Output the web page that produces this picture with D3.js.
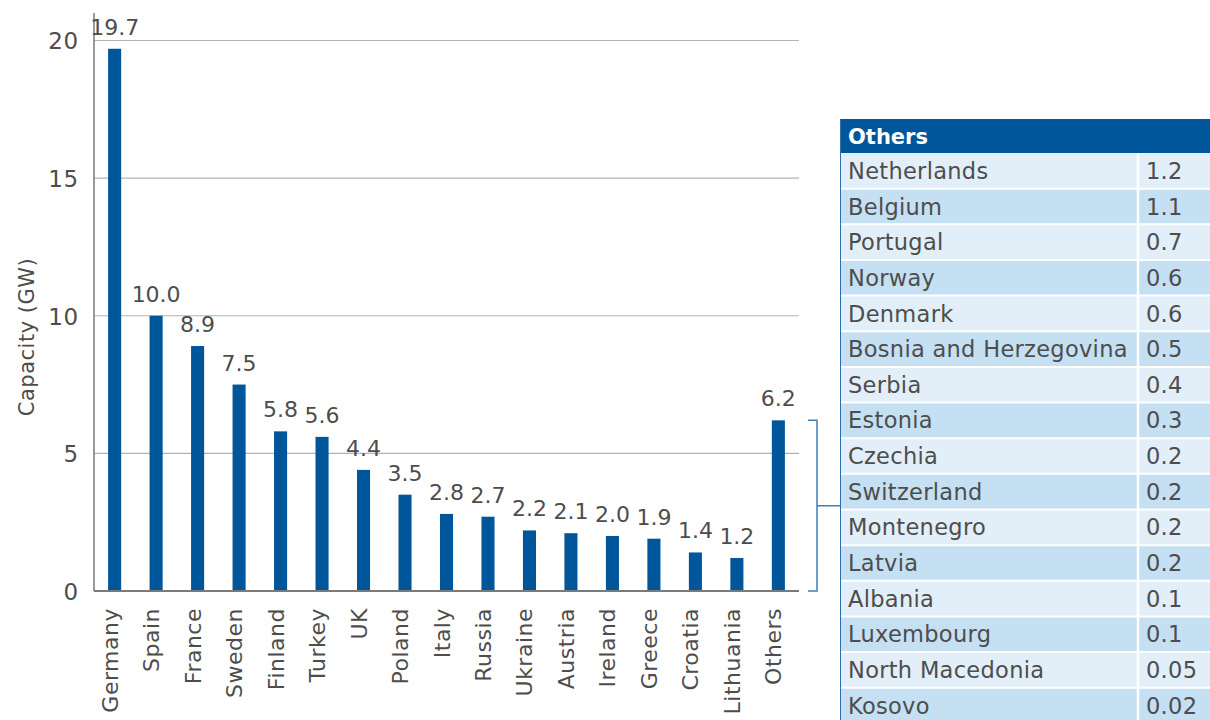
<!DOCTYPE html>
<html>
<head>
<meta charset="utf-8">
<script src="https://cdn.jsdelivr.net/npm/d3@7"></script>
<style>
  html, body { margin: 0; padding: 0; background: #fff; }
  svg { display: block; font-family: "DejaVu Sans", sans-serif; }
</style>
</head>
<body>
<svg id="chart" width="1210" height="720"></svg>
<script>
const categories = ["Germany","Spain","France","Sweden","Finland","Turkey","UK","Poland","Italy","Russia","Ukraine","Austria","Ireland","Greece","Croatia","Lithuania","Others"];
const capacity = [19.7,10.0,8.9,7.5,5.8,5.6,4.4,3.5,2.8,2.7,2.2,2.1,2.0,1.9,1.4,1.2,6.2];
const yTicks = [0,5,10,15,20];
const otherCountries = ["Netherlands","Belgium","Portugal","Norway","Denmark","Bosnia and Herzegovina","Serbia","Estonia","Czechia","Switzerland","Montenegro","Latvia","Albania","Luxembourg","North Macedonia","Kosovo"];
const otherLabels = ["1.2","1.1","0.7","0.6","0.6","0.5","0.4","0.3","0.2","0.2","0.2","0.2","0.1","0.1","0.05","0.02"];
const tableTitle = "Others";
const yTitle = "Capacity (GW)";

const svg = d3.select("#chart");
const blue = "#00569a";
const textCol = "#4d4d4d";
const FONT = "'DejaVu Sans', sans-serif";

const x = d3.scaleBand().domain(categories).range([94, 799]).paddingInner(0.685).paddingOuter(0.34);
const y = d3.scaleLinear().domain([0, 20]).range([591, 40.5]);

// gridlines
svg.append("g").selectAll("line").data(yTicks.filter(d => d > 0)).join("line")
  .attr("x1", 94).attr("x2", 799)
  .attr("y1", d => y(d)).attr("y2", d => y(d))
  .attr("stroke", "#b3b3b3").attr("stroke-width", 1.2);

// y axis
const yAxis = svg.append("g").attr("transform", "translate(94,0)")
  .call(d3.axisLeft(y).tickValues(yTicks).tickSize(0).tickPadding(15));
yAxis.select(".domain").remove();
yAxis.selectAll("text").attr("font-size", 23).attr("fill", textCol)
  .style("font-family", FONT).attr("letter-spacing", 0.8).attr("dy", "0.36em");
svg.append("line").attr("x1", 94).attr("x2", 94).attr("y1", 13).attr("y2", 591)
  .attr("stroke", "#7a7a7a").attr("stroke-width", 1.5);

// bars
svg.append("g").selectAll("rect").data(categories).join("rect")
  .attr("x", d => x(d)).attr("width", x.bandwidth())
  .attr("y", (d, i) => y(capacity[i])).attr("height", (d, i) => y(0) - y(capacity[i]))
  .attr("fill", blue);

// baseline
svg.append("line").attr("x1", 94).attr("x2", 799).attr("y1", 591).attr("y2", 591)
  .attr("stroke", "#7a7a7a").attr("stroke-width", 2);

// value labels
svg.append("g").selectAll("text").data(categories).join("text")
  .attr("x", d => x(d) + x.bandwidth() / 2)
  .attr("y", (d, i) => y(capacity[i]) - 14)
  .attr("text-anchor", "middle").attr("font-size", 22).attr("fill", textCol)
  .text((d, i) => capacity[i].toFixed(1));

// x labels
const xAxis = svg.append("g").attr("transform", "translate(0,591)")
  .call(d3.axisBottom(x).tickSize(0));
xAxis.select(".domain").remove();
xAxis.selectAll("text")
  .attr("font-size", 22).attr("fill", textCol).attr("letter-spacing", 0.5)
  .style("font-family", FONT)
  .attr("text-anchor", "end")
  .attr("transform", "rotate(-90)")
  .attr("x", -17).attr("y", 3).attr("dy", 0);

// y title
svg.append("text").attr("transform", "translate(34,337) rotate(-90)")
  .attr("text-anchor", "middle").attr("font-size", 21).attr("letter-spacing", 0.5).attr("fill", textCol)
  .text(yTitle);

// bracket
const othersVal = capacity[categories.indexOf("Others")];
const bTop = y(othersVal), bBot = y(0), bMid = (y(othersVal) + y(0)) / 2;
const bracketCol = "#3f7fb5";
svg.append("path")
  .attr("d", `M808,${bTop}H817V${bBot}H808M817,${bMid}H840`)
  .attr("fill", "none").attr("stroke", bracketCol).attr("stroke-width", 1.5);

// table
const tLeft = 840, tRight = 1210, colX = 1138, headTop = 119, headH = 34, rowH = 35.65;
const rowY = d3.scaleBand().domain(otherCountries)
  .range([headTop + headH, headTop + headH + rowH * otherCountries.length]);
const tbl = svg.append("g");
tbl.append("rect").attr("x", tLeft).attr("y", headTop).attr("width", tRight - tLeft).attr("height", headH).attr("fill", blue);
tbl.append("text").attr("x", tLeft + 8).attr("y", headTop + headH / 2).attr("dy", "0.36em")
  .attr("font-size", 21).attr("font-weight", "bold").attr("fill", "#fff").text(tableTitle);
const rows = tbl.selectAll("g.row").data(otherCountries).join("g").attr("class", "row");
rows.append("rect").attr("x", tLeft).attr("y", d => rowY(d)).attr("width", tRight - tLeft).attr("height", rowY.bandwidth())
  .attr("fill", (d, i) => i % 2 ? "#c5e0f2" : "#e2eff8");
// white separators
tbl.selectAll("line.sep").data(otherCountries.slice(1)).join("line").attr("class", "sep")
  .attr("x1", tLeft).attr("x2", tRight).attr("y1", d => rowY(d)).attr("y2", d => rowY(d))
  .attr("stroke", "#fff").attr("stroke-width", 2);
tbl.append("line").attr("x1", colX).attr("x2", colX).attr("y1", headTop + headH).attr("y2", 720)
  .attr("stroke", "#fff").attr("stroke-width", 2.5);
tbl.append("line").attr("x1", tLeft + 0.5).attr("x2", tLeft + 0.5).attr("y1", headTop).attr("y2", 720)
  .attr("stroke", "#2f6ea8").attr("stroke-width", 1);
rows.append("text").attr("x", tLeft + 8).attr("y", d => rowY(d) + rowY.bandwidth() / 2).attr("dy", "0.36em")
  .attr("font-size", 22.5).attr("letter-spacing", 0.3).attr("fill", textCol).text(d => d);
rows.append("text").attr("x", colX + 8).attr("y", d => rowY(d) + rowY.bandwidth() / 2).attr("dy", "0.36em")
  .attr("font-size", 22.5).attr("letter-spacing", 0.3).attr("fill", textCol).text((d, i) => otherLabels[i]);
</script>
</body>
</html>
